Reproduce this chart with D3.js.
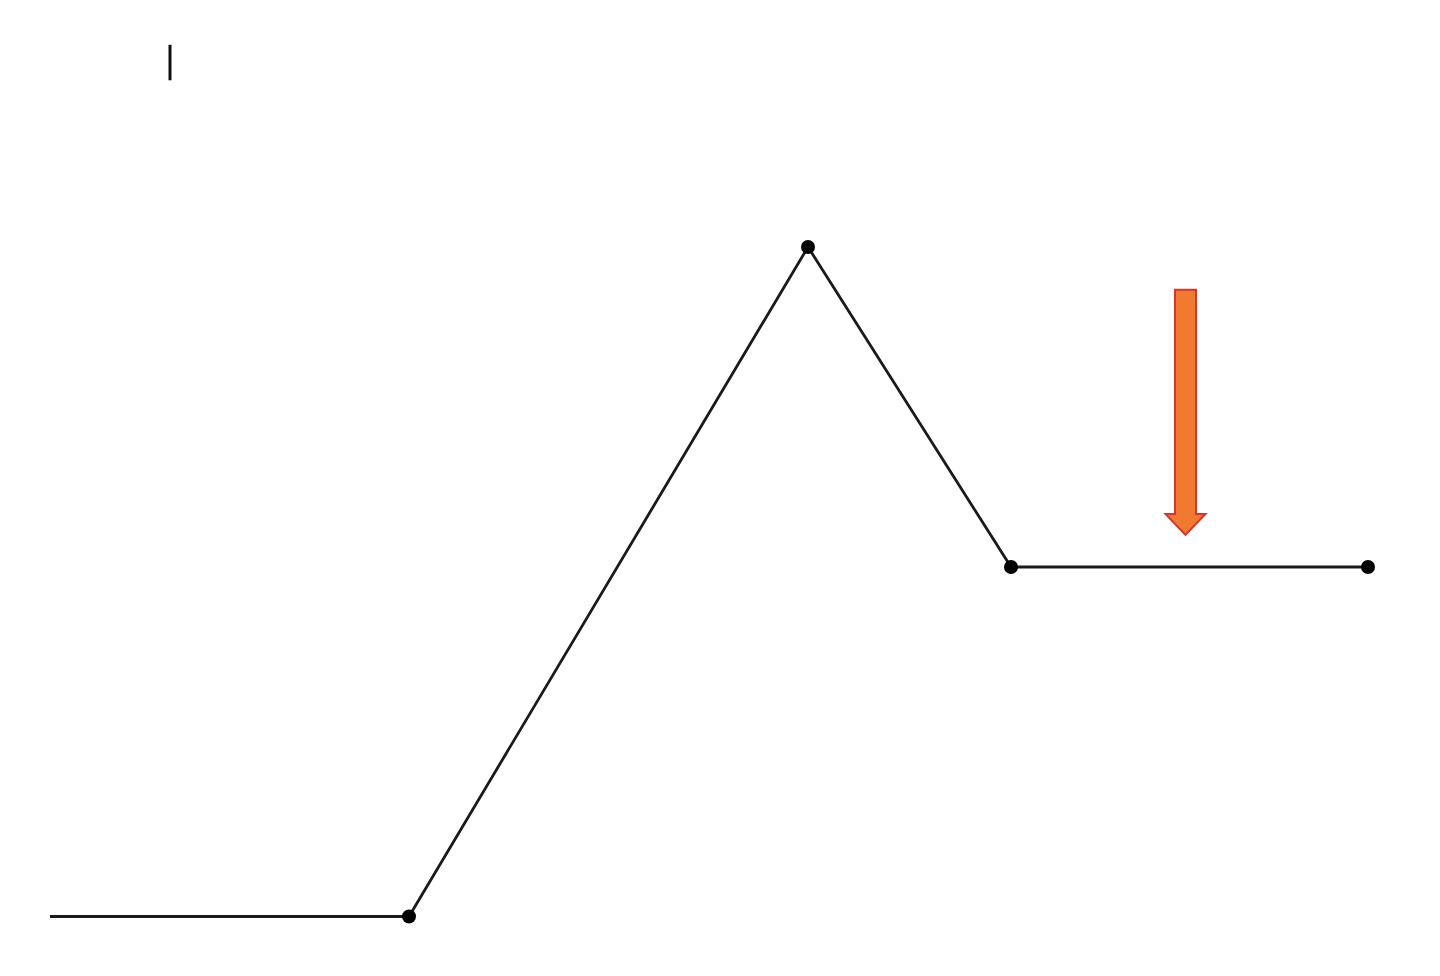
<!DOCTYPE html>
<html><head><meta charset="utf-8">
<script src="https://cdn.jsdelivr.net/npm/d3@7"></script>
<style>html,body{margin:0;padding:0;background:#fff;}svg{display:block;}</style>
</head><body>
<script>
const xValues = [0, 35.9, 75.8, 96.1, 131.8];
const yValues = [0, 0, 100, 52.2, 52.2];
const dotIndices = [1, 2, 3, 4];
const arrowX = [113.55];
const arrowYTop = [93.6];
const arrowYTip = [57.0];
const tickMarkX = [12];
const tickMarkY = [130.2, 124.9];

const W = 1440, H = 976;
const svg = d3.select("body").append("svg").attr("width", W).attr("height", H);
const x = d3.scaleLinear().domain([0, 131.8]).range([50, 1368]);
const y = d3.scaleLinear().domain([0, 100]).range([916.5, 247]);
const pts = xValues.map((v, i) => [v, yValues[i]]);

svg.append("path").datum(pts)
  .attr("d", d3.line().x(d => x(d[0])).y(d => y(d[1])))
  .attr("fill", "none").attr("stroke", "#1a1a1a").attr("stroke-width", 2.8)
  .attr("stroke-linejoin", "round");

svg.selectAll("circle.dot").data(dotIndices).enter().append("circle")
  .attr("class", "dot")
  .attr("cx", i => x(xValues[i])).attr("cy", i => y(yValues[i]))
  .attr("r", 7).attr("fill", "#000");

// small tick mark
svg.append("line")
  .attr("x1", x(tickMarkX[0])).attr("x2", x(tickMarkX[0]))
  .attr("y1", y(tickMarkY[0])).attr("y2", y(tickMarkY[1]))
  .attr("stroke", "#111").attr("stroke-width", 3);

// orange arrow
arrowX.forEach((ax, k) => {
  const cx = x(ax), top = y(arrowYTop[k]), tip = y(arrowYTip[k]);
  const sw = 10.5, hw = 20, hh = 21;
  const p = d3.path();
  p.moveTo(cx - sw, top);
  p.lineTo(cx + sw, top);
  p.lineTo(cx + sw, tip - hh);
  p.lineTo(cx + hw, tip - hh);
  p.lineTo(cx, tip);
  p.lineTo(cx - hw, tip - hh);
  p.lineTo(cx - sw, tip - hh);
  p.closePath();
  svg.append("path").attr("d", p.toString())
    .attr("fill", "#F07A30").attr("stroke", "#D9342B").attr("stroke-width", 2);
});
</script>
</body></html>
